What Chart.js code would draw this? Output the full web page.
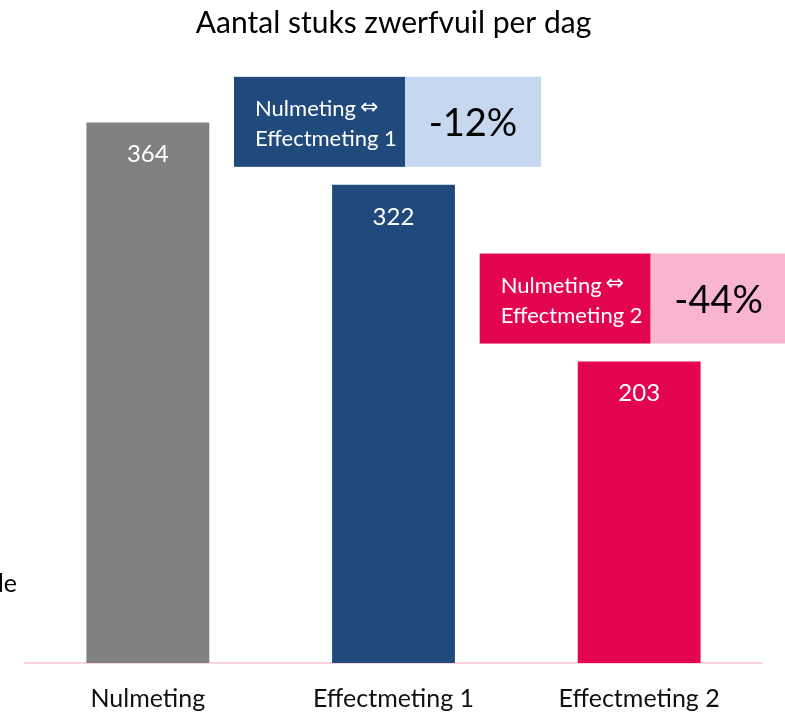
<!DOCTYPE html>
<html>
<head>
<meta charset="utf-8">
<script src="https://cdn.jsdelivr.net/npm/chart.js@4"></script>
<style>
  body { margin: 0; background: #fff; }
  #wrap { width: 785px; height: 713px; }
</style>
</head>
<body>
<div id="wrap"><canvas id="zwerfvuilChart"></canvas></div>
<script>
const categories = ['Nulmeting', 'Effectmeting 1', 'Effectmeting 2'];
const stuksPerDag = [364, 322, 203];
const barColors = ['#808080', '#20497c', '#e3064f'];

// vergelijkingen t.o.v. de nulmeting (bar index -> tekst)
const compareIndex = [1, 2];
const compareFrom = ['Nulmeting', 'Nulmeting'];
const compareTo = ['Effectmeting 1', 'Effectmeting 2'];
const compareDelta = ['-12%', '-44%'];
const compareDark = ['#20497c', '#e3064f'];
const compareLight = ['#c5d8ef', '#f9b4cf'];

const sideLabel = 'Gemiddelde';
const FONT = 'Lato, "Open Sans", sans-serif';

const annotations = {
  id: 'annotations',
  afterDatasetsDraw(chart) {
    const ctx = chart.ctx;
    const meta = chart.getDatasetMeta(0);
    ctx.save();

    // waarden in de balken
    ctx.fillStyle = '#fff';
    ctx.font = '24px ' + FONT;
    ctx.textAlign = 'center';
    ctx.textBaseline = 'middle';
    meta.data.forEach((bar, i) => {
      ctx.fillText(stuksPerDag[i], bar.x, bar.y + 32);
    });

    // vergelijkingsblokken
    compareIndex.forEach((idx, k) => {
      const bar = meta.data[idx];
      const left = bar.x - 159.5;
      const bottom = bar.y - 18;
      const h = 90, wDark = 171, wLight = 136;
      const top = bottom - h;
      ctx.fillStyle = compareDark[k];
      ctx.fillRect(left, top, wDark, h);
      ctx.fillStyle = compareLight[k];
      ctx.fillRect(left + wDark, top, wLight, h);

      ctx.fillStyle = '#fff';
      ctx.font = '22px ' + FONT;
      ctx.textAlign = 'left';
      ctx.fillText(compareFrom[k], left + 21, top + 32);
      const w = ctx.measureText(compareFrom[k]).width;
      ctx.font = '22px "DejaVu Sans", sans-serif';
      ctx.fillText('\u21D4', left + 21 + w + 4, top + 31);
      ctx.font = '22px ' + FONT;
      ctx.fillText(compareTo[k], left + 21, top + 62);

      ctx.fillStyle = '#000';
      ctx.font = '38px ' + FONT;
      ctx.textAlign = 'center';
      ctx.fillText(compareDelta[k], left + wDark + wLight / 2, top + 47);
    });

    // afgesneden label links
    ctx.fillStyle = '#000';
    ctx.font = '25px ' + FONT;
    ctx.textAlign = 'right';
    ctx.textBaseline = 'alphabetic';
    ctx.fillText(sideLabel, 17, 592);
    ctx.restore();
  }
};

new Chart(document.getElementById('zwerfvuilChart'), {
  type: 'bar',
  data: {
    labels: categories,
    datasets: [{
      data: stuksPerDag,
      backgroundColor: barColors,
      barPercentage: 0.5,
      categoryPercentage: 1.0
    }]
  },
  options: {
    responsive: true,
    maintainAspectRatio: false,
    animation: false,
    layout: { padding: { left: 25, right: 23, top: 0, bottom: -22 } },
    plugins: {
      legend: { display: false },
      tooltip: { enabled: false },
      title: {
        display: true,
        text: 'Aantal stuks zwerfvuil per dag',
        color: '#000',
        font: { family: FONT, size: 30, weight: 'normal' },
        padding: { top: 5, bottom: 28 }
      }
    },
    scales: {
      x: {
        grid: { display: false, drawTicks: false },
        border: { display: true, color: '#fcd4e0', width: 2 },
        ticks: { color: '#111', font: { family: FONT, size: 25 }, padding: 21 }
      },
      y: {
        display: false,
        min: 0,
        max: 400
      }
    }
  },
  plugins: [annotations]
});
</script>
</body>
</html>
